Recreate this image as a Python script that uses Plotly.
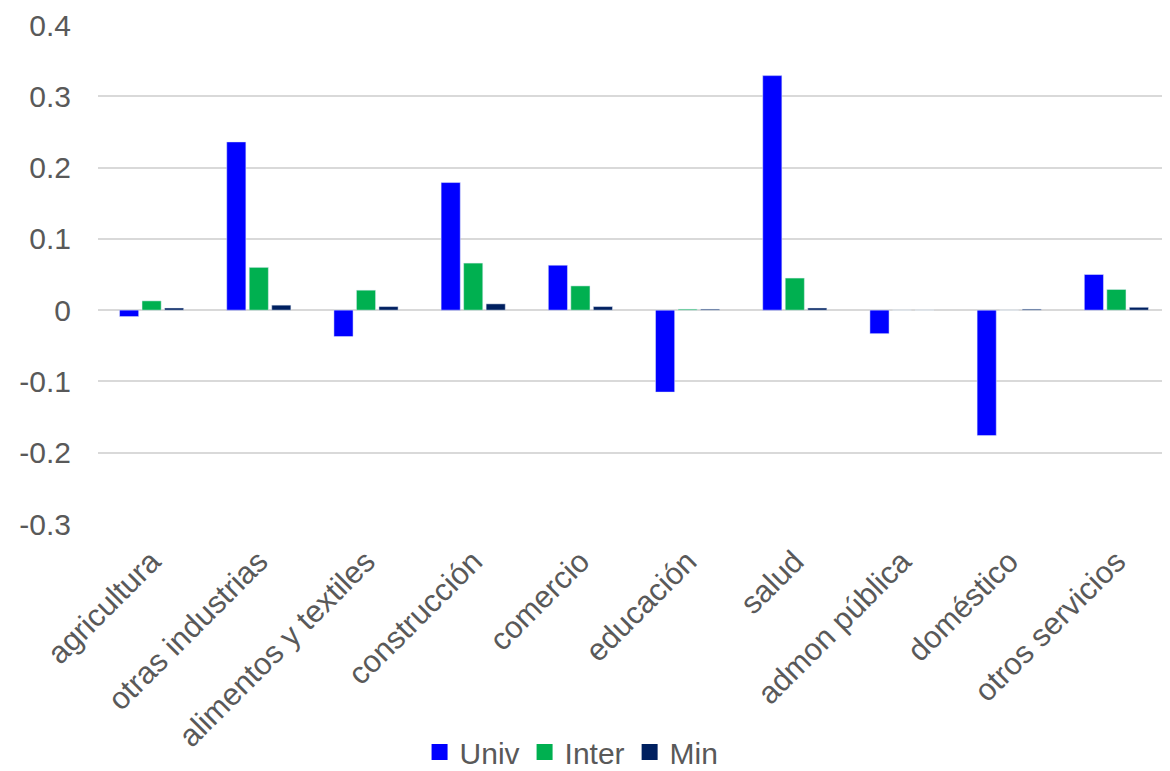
import plotly.graph_objects as go

categories = ["agricultura", "otras industrias", "alimentos y textiles", "construcción",
              "comercio", "educación", "salud", "admon pública", "doméstico", "otros servicios"]
univ = [-0.009, 0.236, -0.037, 0.179, 0.063, -0.115, 0.329, -0.033, -0.176, 0.050]
inter = [0.013, 0.060, 0.028, 0.066, 0.034, 0.0014, 0.045, 0.0, 0.0, 0.029]
minv = [0.003, 0.007, 0.005, 0.0088, 0.005, 0.0014, 0.003, 0.0, 0.0014, 0.004]

series_names = ["Univ", "Inter", "Min"]
series_colors = ["#0000FF", "#00B050", "#002060"]

tick_vals = [-0.3, -0.2, -0.1, 0, 0.1, 0.2, 0.3, 0.4]
tick_text = ["-0.3", "-0.2", "-0.1", "0", "0.1", "0.2", "0.3", "0.4"]

FONT = "Liberation Sans, Arial, sans-serif"
GRAY = "#595959"
FS = 30

fig = go.Figure()
for name, vals, col in zip(series_names, [univ, inter, minv], series_colors):
    fig.add_trace(go.Bar(name=name, x=categories, y=vals, marker_color=col,
                         showlegend=False))
# legend entries with larger square swatches
for name, col in zip(series_names, series_colors):
    fig.add_trace(go.Scatter(name=name, x=[None], y=[None], mode="markers",
                             marker=dict(symbol="square", size=17, color=col),
                             showlegend=True))

fig.update_layout(
    width=1162, height=763,
    barmode="group", bargap=0.37, bargroupgap=0.15,
    paper_bgcolor="white", plot_bgcolor="white",
    margin=dict(l=90, r=0, t=17, b=247, autoexpand=False),
    font=dict(family=FONT, size=FS, color=GRAY),
    showlegend=True,
    legend=dict(orientation="h", xref="container", x=0.485, xanchor="center",
                yref="container", y=0.025, yanchor="middle",
                font=dict(size=FS, color=GRAY), itemwidth=30, itemsizing="trace",
                bgcolor="rgba(0,0,0,0)"),
)
fig.update_yaxes(range=[-0.3, 0.4], tickvals=tick_vals, ticktext=tick_text,
                 showgrid=True, gridcolor="#D9D9D9", gridwidth=1.5,
                 zeroline=True, zerolinecolor="#D9D9D9", zerolinewidth=2,
                 showline=False, ticks="", ticklabelstandoff=26, automargin=False,
                 tickfont=dict(size=FS, color=GRAY))
fig.update_xaxes(tickangle=-45, showgrid=False, showline=False, ticks="",
                 automargin=False, ticklabelstandoff=12,
                 tickfont=dict(size=31, color=GRAY))

fig.write_html("out.html")
